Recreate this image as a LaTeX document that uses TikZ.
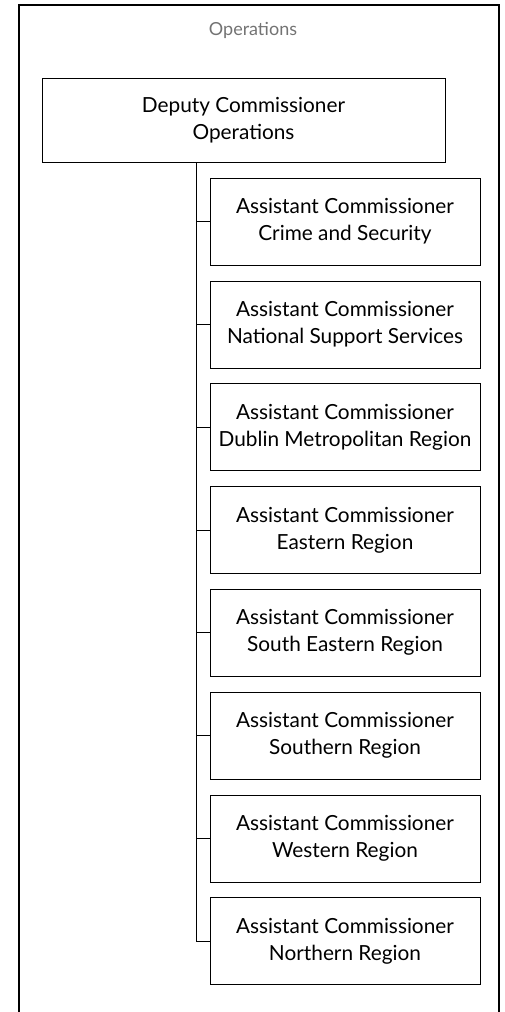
\documentclass[tikz,border=0pt]{standalone}
\usepackage{fontspec}
\setmainfont{Lato}
\usetikzlibrary{positioning}

\tikzset{
  chief/.style={draw, line width=0.6pt, minimum width=403pt, minimum height=84pt,
    inner sep=0pt, align=center, font=\fontsize{20.8}{27}\selectfont},
  assistant/.style={draw, line width=0.6pt, minimum width=270pt, minimum height=87pt,
    inner sep=0pt, align=center, font=\fontsize{20.8}{27}\selectfont},
  link/.style={line width=0.6pt}
}

\begin{document}
\begin{tikzpicture}[x=1pt, y=-1pt, node distance=15.2pt]
    \useasboundingbox (0,0) rectangle (505,1012);

    % Frame
    \draw[line width=1.2pt] (19,1012) -- (19,5) -- (499,5) -- (499,1012);
    \node[text=black!55, font=\fontsize{18}{20}\selectfont] (title) at (253,30) {Operations};

    % Deputy
    \node[chief] (deputy) at (243.5,120) {Deputy Commissioner\\Operations};

    % Assistants
    \node[assistant] (ac1) at (345,221.5) {Assistant Commissioner\\Crime and Security};
    \node[assistant, below=of ac1] (ac2) {Assistant Commissioner\\National Support Services};
    \node[assistant, below=of ac2] (ac3) {Assistant Commissioner\\Dublin Metropolitan Region};
    \node[assistant, below=of ac3] (ac4) {Assistant Commissioner\\Eastern Region};
    \node[assistant, below=of ac4] (ac5) {Assistant Commissioner\\South Eastern Region};
    \node[assistant, below=of ac5] (ac6) {Assistant Commissioner\\Southern Region};
    \node[assistant, below=of ac6] (ac7) {Assistant Commissioner\\Western Region};
    \node[assistant, below=of ac7] (ac8) {Assistant Commissioner\\Northern Region};

    % Trunk and branches
    \coordinate (trunk) at (deputy.south -| 196,0);
    \draw[link] (trunk) -- (trunk |- ac8.west) -- (ac8.west);
    \draw[link] (ac1.west) -- (ac1.west -| trunk);
    \draw[link] (ac2.west) -- (ac2.west -| trunk);
    \draw[link] (ac3.west) -- (ac3.west -| trunk);
    \draw[link] (ac4.west) -- (ac4.west -| trunk);
    \draw[link] (ac5.west) -- (ac5.west -| trunk);
    \draw[link] (ac6.west) -- (ac6.west -| trunk);
    \draw[link] (ac7.west) -- (ac7.west -| trunk);

\end{tikzpicture}
\end{document}
